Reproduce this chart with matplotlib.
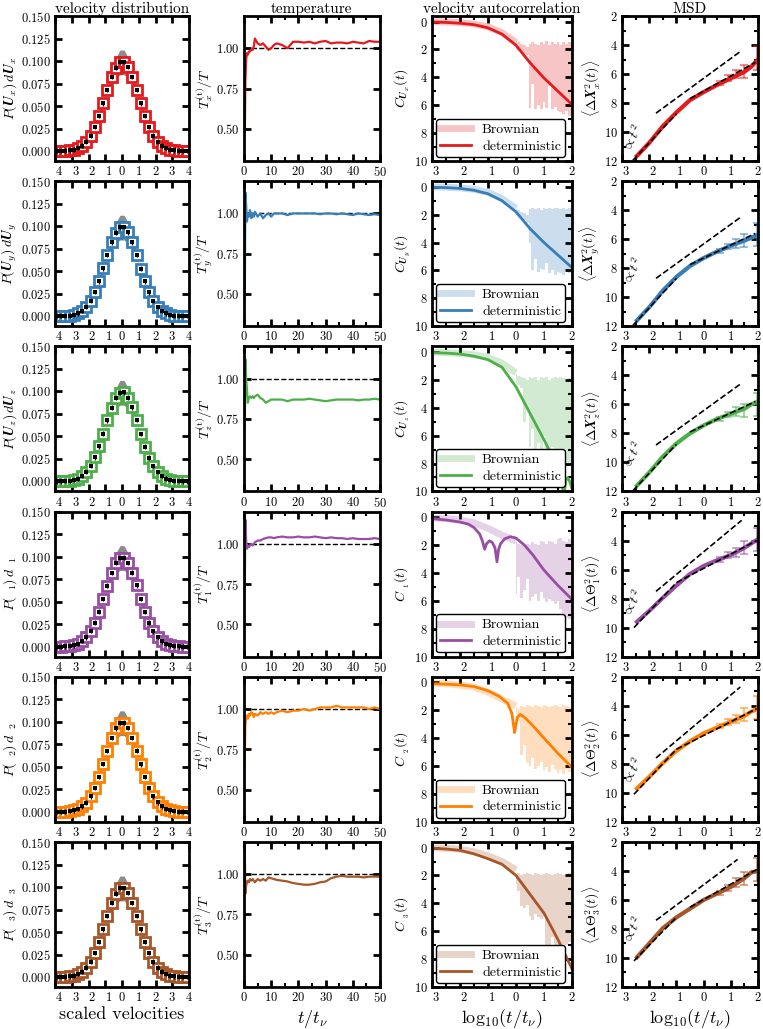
import numpy as np
import matplotlib
matplotlib.use('Agg')
import matplotlib.pyplot as plt
from matplotlib.ticker import MultipleLocator, FixedLocator, FuncFormatter
from matplotlib.lines import Line2D

plt.rcParams.update({
    'font.family': 'serif', 'font.serif': ['cmr10'], 'mathtext.fontset': 'cm',
    'axes.unicode_minus': False, 'axes.formatter.use_mathtext': True,
    'axes.linewidth': 2,
    'xtick.direction': 'in', 'ytick.direction': 'in',
    'xtick.top': True, 'ytick.right': True,
    'xtick.major.width': 2, 'ytick.major.width': 2,
    'xtick.major.size': 5, 'ytick.major.size': 5,
    'xtick.minor.width': 1.5, 'ytick.minor.width': 1.5,
    'xtick.minor.size': 3, 'ytick.minor.size': 3,
    'xtick.labelsize': 9, 'ytick.labelsize': 9,
    'xtick.major.pad': 3, 'ytick.major.pad': 3,
})

colors = ['#e41a1c', '#377eb8', '#4daf4a', '#984ea3', '#ff7f00', '#a65628']

# --- velocity distribution (bin centres, shared by all rows)
vel_x = np.arange(-3.875, 4.0, 0.25)
vel_p = [0.0001, 0.0002, 0.0004, 0.0008, 0.0016, 0.0032, 0.0061, 0.0104,
         0.0173, 0.0268, 0.0389, 0.0531, 0.0678, 0.0820, 0.0928, 0.0987,
         0.0990, 0.0931, 0.0822, 0.0681, 0.0529, 0.0387, 0.0266, 0.0171,
         0.0105, 0.0060, 0.0032, 0.0016, 0.0008, 0.0004, 0.0002, 0.0001]
band_hi_half = [0.0000, 0.0000, 0.0001, 0.0002, 0.0005, 0.0013, 0.0030, 0.0061,
                0.0117, 0.0206, 0.0334, 0.0500, 0.0691, 0.0881, 0.1035, 0.1122]
band_lo_half = [0.0004, 0.0007, 0.0013, 0.0024, 0.0042, 0.0069, 0.0109, 0.0164,
                0.0236, 0.0325, 0.0427, 0.0537, 0.0644, 0.0739, 0.0809, 0.0847]
band_hi = band_hi_half + band_hi_half[::-1]
band_lo = band_lo_half + band_lo_half[::-1]

# --- temperature
temp_t = [0.3, 0.5, 0.8, 1.1, 1.4, 1.8, 2.2, 2.7, 3.2, 3.6, 4, 5, 6, 7, 8, 9, 10, 11, 12,
          14, 16, 18, 20, 22, 24, 26, 28, 30, 32, 34, 36, 38, 40, 42, 44, 46, 48, 50]
temp_x = [0.47, 0.80, 0.93, 0.97, 0.96, 0.98, 0.98, 0.99, 0.99, 1.01, 1.06, 1.03, 1.02, 1.03, 1.01, 0.99, 1.00, 1.02, 1.03,
          1.02, 1.00, 1.04, 1.04, 1.035, 1.04, 1.03, 1.04, 1.045, 1.03, 1.035, 1.035, 1.03, 1.04, 1.035, 1.03, 1.045, 1.04, 1.04]
temp_y = [0.48, 1.13, 1.05, 0.95, 1.0, 0.98, 1.02, 0.97, 1.0, 0.98, 1.01, 0.98, 1.0, 0.97, 0.99, 1.0, 0.98, 1.0, 1.0,
          1.0, 0.99, 1.0, 1.0, 1.0, 1.0, 1.0, 0.995, 1.0, 1.0, 0.995, 1.0, 0.995, 0.99, 1.0, 0.995, 0.99, 0.995, 0.99]
temp_z = [0.70, 1.12, 1.0, 0.93, 0.85, 0.88, 0.89, 0.88, 0.89, 0.88, 0.89, 0.90, 0.88, 0.87, 0.85, 0.86, 0.87, 0.87, 0.87,
          0.87, 0.86, 0.87, 0.87, 0.87, 0.875, 0.87, 0.865, 0.86, 0.865, 0.87, 0.87, 0.87, 0.87, 0.865, 0.87, 0.87, 0.875, 0.87]
temp_1 = [0.72, 1.15, 1.02, 0.97, 0.99, 0.98, 0.99, 1.0, 0.99, 1.0, 1.01, 1.02, 1.02, 1.03, 1.035, 1.04, 1.04, 1.035, 1.04,
          1.045, 1.04, 1.04, 1.045, 1.04, 1.04, 1.045, 1.04, 1.035, 1.04, 1.035, 1.035, 1.03, 1.035, 1.03, 1.03, 1.03, 1.035, 1.03]
temp_2 = [0.68, 0.90, 0.95, 0.96, 0.94, 0.97, 0.96, 0.98, 0.97, 0.95, 0.97, 0.96, 0.98, 0.97, 0.98, 0.97, 0.98, 0.97, 0.98,
          0.99, 0.98, 0.99, 0.99, 1.0, 0.99, 1.0, 1.01, 1.01, 1.01, 1.02, 1.01, 1.01, 1.01, 1.01, 1.01, 1.0, 1.01, 1.0]
temp_3 = [1.15, 0.88, 0.93, 0.95, 0.96, 0.95, 0.97, 0.96, 0.97, 0.96, 0.95, 0.97, 0.96, 0.97, 0.96, 0.98, 0.975, 0.97, 0.965,
          0.96, 0.955, 0.945, 0.94, 0.935, 0.935, 0.94, 0.95, 0.955, 0.975, 0.985, 0.99, 0.985, 0.985, 0.985, 0.98, 0.985, 0.985, 0.985]
temps = [temp_x, temp_y, temp_z, temp_1, temp_2, temp_3]

# --- velocity autocorrelation (deterministic)
vx_std = [-3, -2.5, -2, -1.5, -1, -0.5, 0, 0.5, 1, 1.5, 2]
vacf_x_det = [vx_std, vx_std,
              [-3, -2.5, -2, -1.5, -1, -0.5, 0, 0.5, 1, 1.3, 1.5, 1.65, 1.72, 1.78, 1.85, 1.92, 2],
              [-3, -2.5, -2, -1.7, -1.5, -1.3, -1.2, -1.12, -1.05, -0.95, -0.85, -0.75, -0.68, -0.62,
               -0.55, -0.4, -0.2, 0, 0.3, 0.6, 1.0, 1.5, 2],
              [-3, -2.5, -2, -1.5, -1, -0.6, -0.3, -0.15, -0.05, 0.0, 0.05, 0.15, 0.3, 0.6, 1, 1.5, 2],
              vx_std]
vacf_y_det = [[0.03, 0.06, 0.12, 0.22, 0.45, 0.9, 1.7, 2.95, 4.05, 5.0, 5.95],
              [0.03, 0.06, 0.12, 0.25, 0.5, 1.0, 1.8, 3.0, 4.0, 4.9, 5.8],
              [0.05, 0.08, 0.15, 0.3, 0.55, 1.1, 2.5, 4.4, 6.3, 7.5, 8.5, 9.6, 10.3, 9.2, 9.0, 9.3, 9.8],
              [0.1, 0.2, 0.35, 0.5, 0.75, 1.2, 1.7, 2.3, 1.9, 1.7, 1.8, 2.2, 3.2, 2.3, 1.9, 1.55, 1.4,
               1.5, 2.0, 2.7, 3.8, 4.9, 5.9],
              [0.1, 0.13, 0.18, 0.3, 0.6, 1.0, 1.5, 2.2, 3.6, 3.0, 2.5, 2.3, 2.5, 3.1, 4.0, 5.1, 6.1],
              [0.05, 0.1, 0.2, 0.45, 0.8, 1.2, 2.0, 3.35, 4.7, 6.6, 8.7]]

# Brownian: smooth part then noisy band
brown_x = [-3, -2.5, -2, -1.5, -1, -0.5, 0]
brown_y = [[0.0, 0.03, 0.08, 0.17, 0.38, 0.8, 1.5],
           [0.0, 0.03, 0.08, 0.18, 0.4, 0.85, 1.55],
           [0.0, 0.05, 0.1, 0.2, 0.4, 0.8, 1.5],
           [0.05, 0.1, 0.2, 0.4, 0.8, 1.3, 1.7],
           [0.05, 0.1, 0.2, 0.35, 0.7, 1.2, 1.7],
           [0.0, 0.05, 0.12, 0.3, 0.6, 1.0, 1.6]]
noise_x = [0.0, 0.1, 0.2, 0.3, 0.4, 0.5, 0.6, 0.7, 0.8, 0.9, 1.0,
           1.1, 1.2, 1.3, 1.4, 1.5, 1.6, 1.7, 1.8, 1.9, 2.0]
noise_up = [[1.4, 1.5, 1.6, 1.7, 1.8, 1.6, 1.5, 1.6, 1.7, 1.5, 1.6, 1.4, 1.7, 1.5, 1.6, 1.5, 1.7, 1.5, 1.6, 1.5, 1.6],
            [1.6, 1.7, 1.8, 1.9, 2.0, 1.6, 1.5, 1.6, 1.5, 1.7, 1.5, 1.6, 1.5, 1.6, 1.5, 1.5, 1.6, 1.5, 1.6, 1.5, 1.6],
            [1.6, 1.7, 1.8, 1.9, 2.0, 1.8, 1.9, 1.8, 2.0, 1.8, 1.9, 1.8, 2.0, 1.9, 1.8, 1.9, 1.8, 1.9, 2.0, 1.9, 1.8],
            [1.8, 1.9, 2.0, 2.1, 1.9, 2.0, 1.8, 1.9, 2.0, 1.7, 1.8, 1.9, 1.7, 1.8, 1.9, 1.6, 1.5, 1.7, 1.8, 1.6, 1.7],
            [1.8, 1.9, 1.7, 1.8, 1.6, 1.7, 1.8, 1.6, 1.7, 1.8, 1.6, 1.7, 1.8, 1.7, 1.6, 1.7, 1.8, 1.6, 1.7, 1.8, 1.7],
            [1.9, 1.8, 2.0, 1.9, 1.8, 1.9, 2.0, 1.8, 1.9, 2.0, 1.9, 1.8, 1.9, 2.0, 1.9, 1.8, 1.9, 2.0, 1.9, 1.8, 1.9]]
noise_lo = [[2.0, 2.1, 2.2, 2.3, 2.4, 6.2, 4.5, 6.3, 6.0, 6.3, 5.8, 6.2, 4.6, 6.3, 6.1, 6.4, 6.5, 6.6, 6.4, 6.8, 6.7],
            [2.0, 2.1, 2.2, 2.4, 2.6, 4.0, 6.0, 5.2, 6.1, 5.9, 6.0, 5.5, 6.2, 6.0, 6.3, 6.1, 6.2, 6.3, 6.0, 6.2, 6.3],
            [2.2, 2.4, 2.6, 5.0, 4.0, 6.8, 5.5, 7.2, 6.5, 7.8, 6.0, 7.6, 7.9, 6.8, 8.0, 7.5, 7.8, 8.1, 7.9, 8.0, 7.7],
            [5.5, 4.3, 5.8, 5.2, 4.4, 6.0, 5.7, 5.5, 6.0, 5.4, 5.8, 6.1, 5.9, 6.0, 6.2, 6.0, 6.6, 7.3, 7.2, 7.3, 7.0],
            [2.3, 2.8, 5.2, 4.5, 5.8, 6.0, 5.4, 6.2, 6.0, 5.7, 6.3, 6.1, 6.4, 5.9, 6.2, 6.5, 6.3, 6.6, 6.2, 6.4, 6.5],
            [2.6, 3.1, 4.2, 4.3, 4.1, 4.9, 5.2, 4.8, 5.0, 5.1, 4.9, 7.6, 7.9, 6.4, 7.8, 7.0, 6.9, 7.2, 7.0, 6.8, 7.1]]

# --- MSD
msd_x = [-2.45, -2.0, -1.5, -1.0, -0.5, 0.0, 0.5, 1.0, 1.5, 1.75, 2.0]
msd_y = [[11.65, 10.75, 9.6, 8.65, 7.8, 7.25, 6.75, 6.3, 5.85, 5.5, 5.0],
         [11.6, 10.7, 9.55, 8.6, 7.85, 7.3, 6.85, 6.45, 6.1, 5.9, 5.7],
         [11.6, 10.7, 9.6, 8.7, 8.0, 7.45, 7.0, 6.65, 6.3, 6.0, 5.8],
         [9.6, 8.85, 7.95, 7.1, 6.3, 5.75, 5.35, 5.0, 4.5, 4.2, 3.9],
         [9.7, 8.9, 7.95, 7.1, 6.45, 5.9, 5.5, 5.1, 4.7, 4.4, 4.2],
         [9.95, 9.0, 7.95, 7.2, 6.6, 6.0, 5.55, 5.1, 4.5, 4.1, 4.0]]
err_x = [0.6, 0.9, 1.2, 1.5, 1.95]
err_y = [[6.6, 6.3, 6.0, 5.8, 4.9],
         [6.8, 6.5, 6.3, 6.1, 5.7],
         [7.0, 6.7, 6.5, 6.4, 6.0],
         [5.3, 5.0, 4.8, 4.5, 3.9],
         [5.4, 5.1, 4.9, 4.6, 4.1],
         [5.5, 5.2, 4.8, 4.5, 3.9]]
err_e = [0.15, 0.2, 0.3, 0.45, 0.8]
# dashed guide lines: (x0, y0, x1, y1)
guide_t2 = [(-2.6, 11.95, -1.0, 8.75), (-2.6, 11.95, -1.0, 8.7), (-2.6, 11.95, -1.0, 8.75),
            (-2.56, 10.0, -1.0, 6.9), (-2.56, 10.1, -1.0, 7.0), (-2.56, 10.2, -1.0, 7.2)]
guide_mid = [(-1.75, 8.7, 1.35, 4.45), (-1.75, 8.7, 1.35, 4.5), (-1.75, 8.8, 1.35, 4.6),
             (-1.75, 7.5, 1.4, 2.6), (-1.75, 7.6, 1.35, 2.7), (-1.75, 7.4, 1.25, 3.2)]
guide_t = [(-0.5, 7.7, 1.9, 5.2), (-0.5, 7.75, 1.9, 5.6), (-0.5, 7.9, 1.9, 5.8),
           (-1.0, 6.9, 1.95, 4.0), (-1.0, 7.0, 1.95, 4.2), (-0.5, 6.5, 1.95, 3.9)]
t2_label_y = [10.4, 8.2, 9.5, 8.3, 8.5, 8.1]

# --- labels
subs = ['x', 'y', 'z', '1', '2', '3']
lab_dist = [r'$P(\mathbfit{U}_x)\,d\mathbfit{U}_x$', r'$P(\mathbfit{U}_y)\,d\mathbfit{U}_y$',
            r'$P(\mathbfit{U}_z)\,d\mathbfit{U}_z$', r'$P(\ \,{}_1)\,d\ \,{}_1$',
            r'$P(\ \,{}_2)\,d\ \,{}_2$', r'$P(\ \,{}_3)\,d\ \,{}_3$']
lab_temp = [r'$T_{%s}^{(\mathrm{t})}/T$' % s for s in subs]
lab_vacf = [r'$C_{\mathbfit{U}_x}(t)$', r'$C_{\mathbfit{U}_y}(t)$', r'$C_{\mathbfit{U}_z}(t)$',
            r'$C_{\ \,{}_1}(t)$', r'$C_{\ \,{}_2}(t)$', r'$C_{\ \,{}_3}(t)$']
lab_msd = [r'$\langle\Delta\mathbfit{X}_x^2(t)\rangle$', r'$\langle\Delta\mathbfit{X}_y^2(t)\rangle$',
           r'$\langle\Delta\mathbfit{X}_z^2(t)\rangle$', r'$\langle\Delta\mathbf{\Theta}_1^2(t)\rangle$',
           r'$\langle\Delta\mathbf{\Theta}_2^2(t)\rangle$', r'$\langle\Delta\mathbf{\Theta}_3^2(t)\rangle$']
log_label = r'$\mathrm{log}_{10}(t/t_\nu)$'


def abs_fmt(v, pos):
    # negative values are shown without their minus sign, shifted as if it were there
    n = int(round(v))
    if n < 0:
        return r'$\ \;\,%d$' % abs(n)
    return r'$%d$' % n


W, H = 763, 1029
fig = plt.figure(figsize=(W / 100, H / 100), dpi=100)
lefts = [55, 244, 432, 622]
widths = [134, 136, 140, 136]


def make_ax(col, row):
    top = 16 + 165.2 * row
    return fig.add_axes([lefts[col] / W, 1 - (top + 145) / H, widths[col] / W, 145 / H])


for r in range(6):
    c = colors[r]

    # velocity distribution
    ax = make_ax(0, r)
    ax.fill_between(vel_x, band_lo, band_hi, color='0.55', lw=0, zorder=1)
    ax.plot(vel_x, vel_p, 's', ms=7, mfc='white', mec=c, mew=2, zorder=2)
    ax.errorbar(vel_x, vel_p, yerr=0.0025, fmt='s', color='k', ms=3.5, mew=0,
                elinewidth=1, capsize=2, capthick=1.2, zorder=3)
    ax.set_xlim(-4, 4)
    ax.set_ylim(-0.011, 0.150)
    ax.xaxis.set_major_locator(MultipleLocator(1))
    ax.xaxis.set_major_formatter(FuncFormatter(abs_fmt))
    ax.yaxis.set_major_locator(MultipleLocator(0.025))
    ax.yaxis.set_major_formatter(FuncFormatter(lambda v, p: r'$%.3f$' % v))
    ax.set_ylabel(lab_dist[r], fontsize=10, labelpad=1)
    if r == 0:
        ax.set_title('velocity distribution', fontsize=11, pad=2)
    if r == 5:
        ax.set_xlabel('scaled velocities', fontsize=13, labelpad=2)

    # temperature
    ax = make_ax(1, r)
    ax.axhline(1.0, color='k', ls='--', lw=1)
    ax.plot(temp_t, temps[r], color=c, lw=1.6)
    ax.set_xlim(0, 50)
    ax.set_ylim(0.3, 1.2)
    ax.xaxis.set_major_locator(MultipleLocator(10))
    ax.xaxis.set_minor_locator(MultipleLocator(5))
    ax.xaxis.set_major_formatter(FuncFormatter(lambda v, p: r'$%d$' % int(round(v))))
    ax.yaxis.set_major_locator(FixedLocator([0.5, 0.75, 1.0]))
    ax.yaxis.set_major_formatter(FuncFormatter(lambda v, p: r'$%.2f$' % v))
    ax.set_ylabel(lab_temp[r], fontsize=10, labelpad=1)
    if r == 0:
        ax.set_title('temperature', fontsize=11, pad=2)
    if r == 5:
        ax.set_xlabel(r'$t/t_\nu$', fontsize=13, labelpad=2)

    # velocity autocorrelation
    ax = make_ax(2, r)
    ax.plot(brown_x, brown_y[r], color=c, lw=5, alpha=0.25, solid_capstyle='butt')
    ax.fill_between(noise_x, noise_up[r], noise_lo[r], step='mid', color=c, alpha=0.25, lw=0)
    ax.plot(vacf_x_det[r], vacf_y_det[r], color=c, lw=2)
    ax.set_xlim(-3, 2)
    ax.set_ylim(10, -0.4)
    ax.xaxis.set_major_locator(MultipleLocator(1))
    ax.xaxis.set_minor_locator(MultipleLocator(0.5))
    ax.xaxis.set_major_formatter(FuncFormatter(abs_fmt))
    ax.yaxis.set_major_locator(FixedLocator([0, 2, 4, 6, 8, 10]))
    ax.yaxis.set_minor_locator(MultipleLocator(1))
    ax.yaxis.set_major_formatter(FuncFormatter(lambda v, p: r'$%d$' % int(round(v))))
    ax.set_ylabel(lab_vacf[r], fontsize=10, labelpad=1)
    handles = [Line2D([], [], color=c, lw=5, alpha=0.25), Line2D([], [], color=c, lw=2)]
    leg = ax.legend(handles, ['Brownian', 'deterministic'], loc='lower left', fontsize=10,
                    framealpha=1, edgecolor='k', handlelength=2.2, borderpad=0.3,
                    labelspacing=0.3, borderaxespad=0.3)
    leg.get_frame().set_linewidth(1)
    if r == 0:
        ax.set_title('velocity autocorrelation', fontsize=11, pad=2)
    if r == 5:
        ax.set_xlabel(log_label, fontsize=13, labelpad=2)

    # MSD
    ax = make_ax(3, r)
    for g in (guide_t2[r], guide_mid[r], guide_t[r]):
        ax.plot([g[0], g[2]], [g[1], g[3]], 'k--', lw=1.2, zorder=3)
    ax.plot(msd_x, msd_y[r], color=c, lw=3, zorder=2)
    ax.errorbar(err_x, err_y[r], yerr=err_e, fmt='none', ecolor=c, alpha=0.5,
                elinewidth=1.5, capsize=3, capthick=1.5, zorder=2)
    ax.text(-2.62, t2_label_y[r], r'$\propto t^2$', rotation=62, fontsize=10,
            ha='center', va='center')
    ax.set_xlim(-3, 2)
    ax.set_ylim(12, 2)
    ax.xaxis.set_major_locator(MultipleLocator(1))
    ax.xaxis.set_minor_locator(MultipleLocator(0.5))
    ax.xaxis.set_major_formatter(FuncFormatter(abs_fmt))
    ax.yaxis.set_major_locator(FixedLocator([2, 4, 6, 8, 10, 12]))
    ax.yaxis.set_minor_locator(MultipleLocator(1))
    ax.yaxis.set_major_formatter(FuncFormatter(lambda v, p: r'$%d$' % int(round(v))))
    ax.set_ylabel(lab_msd[r], fontsize=10, labelpad=1)
    if r == 0:
        ax.set_title('MSD', fontsize=11, pad=2)
    if r == 5:
        ax.set_xlabel(log_label, fontsize=13, labelpad=2)

fig.savefig('out.png', dpi=100)
